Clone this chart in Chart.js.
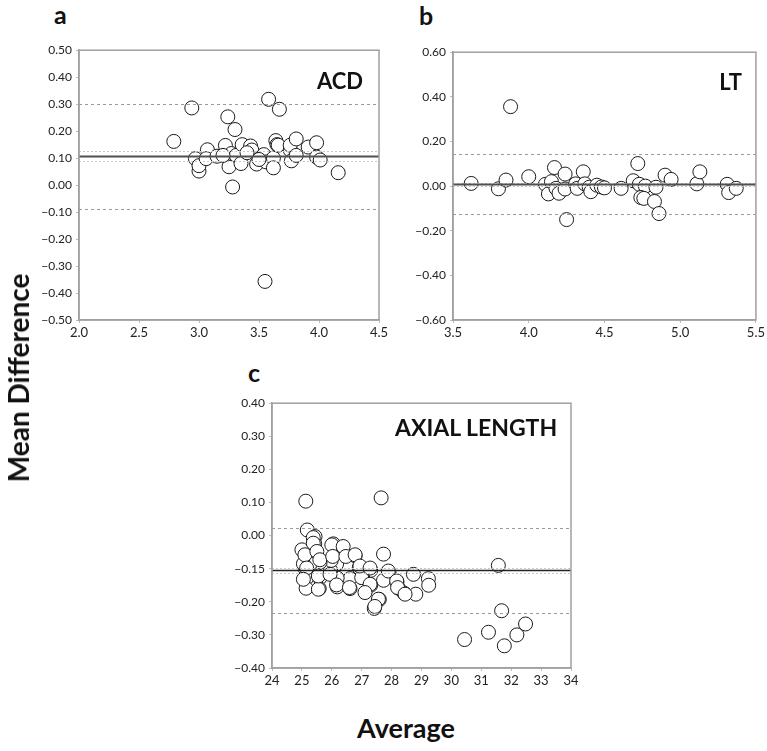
<!DOCTYPE html>
<html>
<head>
<meta charset="utf-8">
<script src="https://cdn.jsdelivr.net/npm/chart.js@4"></script>
<style>
  body { margin: 0; background: #fff; }
  #wrap { position: relative; width: 767px; height: 751px; overflow: hidden; font-family: Lato, "Open Sans", sans-serif; }
  canvas { position: absolute; }
  .lbl { position: absolute; font-weight: bold; color: #111; white-space: nowrap; line-height: 1; }
</style>
</head>
<body>
<div id="wrap">
  <canvas id="chartA" width="362" height="311" style="left:29px;top:39px"></canvas>
  <canvas id="chartB" width="364" height="309" style="left:403px;top:41px"></canvas>
  <canvas id="chartC" width="361" height="306" style="left:222px;top:392px"></canvas>

  <div class="lbl" style="left:54px;top:2px;font-size:25px">a</div>
  <div class="lbl" style="left:419px;top:3px;font-size:25px">b</div>
  <div class="lbl" style="left:248px;top:360px;font-size:25px">c</div>

  <div class="lbl" style="right:404px;top:70px;font-size:22px">ACD</div>
  <div class="lbl" style="right:25px;top:71px;font-size:22px">LT</div>
  <div class="lbl" style="left:395px;top:416px;font-size:23px">AXIAL LENGTH</div>

  <div class="lbl" style="left:18px;top:378px;font-size:28px;transform:translate(-50%,-50%) rotate(-90deg)">Mean Difference</div>
  <div class="lbl" style="left:406px;top:727px;font-size:27px;transform:translate(-50%,-50%)">Average</div>
</div>

<script>
// panel a - ACD
const acdAvg = [2.79, 2.94, 2.97, 3.00, 3.00, 3.07, 3.06, 3.15, 3.22, 3.24, 3.30, 3.25, 3.28, 3.27, 3.31,
  3.35, 3.36, 3.43, 3.44, 3.48, 3.51, 3.54, 3.56, 3.55, 3.58, 3.67, 3.62, 3.62, 3.64, 3.65,
  3.66, 3.76, 3.76, 3.77, 3.81, 3.81, 3.91, 3.98, 3.98, 4.01, 4.16, 3.20, 3.40, 3.50];
const acdDiff = [0.162, 0.286, 0.098, 0.052, 0.072, 0.131, 0.098, 0.107, 0.147, 0.253, 0.206, 0.068, -0.007, 0.117, 0.110,
  0.080, 0.150, 0.145, 0.130, 0.078, 0.100, 0.113, 0.086, -0.357, 0.318, 0.281, 0.100, 0.064, 0.165, 0.150,
  0.148, 0.130, 0.148, 0.090, 0.171, 0.110, 0.141, 0.157, 0.104, 0.093, 0.046, 0.110, 0.120, 0.095];
const acdXTicks = [2.0, 2.5, 3.0, 3.5, 4.0, 4.5];
const acdYTicks = [0.5, 0.4, 0.3, 0.2, 0.1, 0, -0.1, -0.2, -0.3, -0.4, -0.5];
const acdMean = 0.107, acdCI = [0.125, 0.089], acdLoA = [0.302, -0.089];

// panel b - LT
const ltAvg = [3.62, 3.80, 3.85, 3.88, 4.00, 4.11, 4.13, 4.15, 4.17, 4.18, 4.20, 4.24, 4.24, 4.25, 4.31,
  4.32, 4.36, 4.37, 4.40, 4.41, 4.45, 4.48, 4.50, 4.61, 4.69, 4.72, 4.73, 4.77, 4.74, 4.76,
  4.83, 4.84, 4.86, 4.90, 4.94, 5.11, 5.13, 5.31, 5.32, 5.37];
const ltDiff = [0.012, -0.012, 0.027, 0.356, 0.042, 0.008, -0.035, 0.020, 0.083, -0.010, -0.032, 0.054, -0.013, -0.150, 0.010,
  -0.010, 0.064, 0.010, -0.005, -0.025, 0.004, -0.004, -0.008, -0.010, 0.024, 0.101, 0.008, 0.000, -0.051, -0.055,
  -0.069, -0.005, -0.123, 0.049, 0.030, 0.010, 0.064, 0.008, -0.029, -0.010];
const ltXTicks = [3.5, 4.0, 4.5, 5.0, 5.5];
const ltYTicks = [0.6, 0.4, 0.2, 0, -0.2, -0.4, -0.6];
const ltMean = 0.008, ltCI = [0.015, 0.001], ltLoA = [0.145, -0.123];

// panel c - axial length
const alAvg = [25.13, 27.65, 25.18, 27.73, 31.57, 31.68, 30.44, 31.24, 31.77, 32.19, 32.48, 27.42, 27.59, 29.23, 29.24,
  28.73, 28.81, 28.42, 28.23, 28.18, 27.92, 27.73, 27.30, 27.30, 27.03, 26.92, 26.78, 26.61, 26.61, 26.42,
  26.16, 26.18, 26.18, 26.05, 25.96, 25.98, 25.61, 25.60, 25.58, 25.44, 25.43, 25.40, 25.18, 25.13, 25.11,
  25.16, 25.14, 25.28, 25.05, 25.38, 25.00, 25.10, 25.38, 25.50, 25.60, 25.16, 25.05, 25.55, 25.55, 26.00,
  26.03, 25.94, 26.16, 26.38, 26.47, 26.59, 26.78, 27.00, 26.94, 27.28, 27.28, 27.11, 27.89, 28.17, 28.20,
  28.45, 27.56, 27.44];
const alDiff = [0.104, 0.114, 0.017, -0.056, -0.090, -0.227, -0.314, -0.292, -0.333, -0.300, -0.267, -0.220, -0.193, -0.130, -0.150,
  -0.117, -0.177, -0.174, -0.159, -0.140, -0.115, -0.135, -0.105, -0.150, -0.127, -0.097, -0.061, -0.130, -0.160, -0.055,
  -0.086, -0.128, -0.155, -0.025, -0.105, -0.075, -0.080, -0.128, -0.160, -0.003, -0.025, -0.050, -0.050, -0.060, -0.100,
  -0.128, -0.159, -0.085, -0.085, -0.006, -0.043, -0.058, -0.023, -0.048, -0.073, -0.098, -0.132, -0.162, -0.122, -0.028,
  -0.063, -0.117, -0.149, -0.033, -0.063, -0.157, -0.058, -0.127, -0.092, -0.098, -0.147, -0.172, -0.107, -0.137, -0.157,
  -0.177, -0.192, -0.214];
const alXTicks = [24, 25, 26, 27, 28, 29, 30, 31, 32, 33, 34];
const alYTicks = [0.4, 0.3, 0.2, 0.1, 0, -0.1, -0.2, -0.3, -0.4];
const alYLabels = ["0.40", "0.30", "0.20", "0.10", "0.00", "\u22120.15", "\u22120.20", "\u22120.30", "\u22120.40"];
const alMean = -0.105, alCI = [-0.097, -0.113], alLoA = [0.024, -0.233];

function fmt(v, d) {
    let s = Math.abs(v).toFixed(d);
    return v < -1e-9 ? "\u2212" + s : s;
}

// box around plot area + mean / limit lines
const refLines = {
    id: "refLines",
    afterDatasetsDraw(chart, args, o) {
        const ctx = chart.ctx;
        const a = chart.chartArea;
        const y = chart.scales.y;
        ctx.save();
        function hline(v, color, width, dash) {
            const py = Math.round(y.getPixelForValue(v)) + 0.5;
            ctx.beginPath();
            ctx.setLineDash(dash);
            ctx.strokeStyle = color;
            ctx.lineWidth = width;
            ctx.moveTo(a.left, py);
            ctx.lineTo(a.right, py);
            ctx.stroke();
        }
        o.ci.forEach(v => hline(v, "#c8c8c8", 1, [2, 2]));
        o.loa.forEach(v => hline(v, "#9a9a9a", 1, [3, 3]));
        hline(o.mean, o.meanColor, o.meanWidth, []);
        ctx.setLineDash([]);
        ctx.strokeStyle = "#a0a0a0";
        ctx.lineWidth = 1.5;
        ctx.strokeRect(a.left, a.top, a.right - a.left, a.bottom - a.top);
        ctx.restore();
    }
};

function makeChart(id, avg, diff, xTicks, yTicks, xLabel, yLabel, lines, padRight) {
    const pts = avg.map((x, i) => ({ x: x, y: diff[i] }));
    return new Chart(document.getElementById(id), {
        type: "scatter",
        data: {
            datasets: [{
                data: pts,
                pointRadius: 7,
                pointHoverRadius: 7,
                pointBackgroundColor: "#ffffff",
                pointBorderColor: "#1a1a1a",
                pointBorderWidth: 1
            }]
        },
        options: {
            responsive: false,
            animation: false,
            layout: { padding: { top: 8, right: padRight, left: 0, bottom: 0 } },
            plugins: {
                legend: { display: false },
                tooltip: { enabled: false },
                refLines: lines
            },
            scales: {
                x: {
                    type: "linear",
                    min: xTicks[0],
                    max: xTicks[xTicks.length - 1],
                    afterBuildTicks: s => { s.ticks = xTicks.map(v => ({ value: v })); },
                    afterFit: s => { s.height = 30; },
                    ticks: {
                        callback: (v, i) => xLabel(v, i),
                        color: "#222",
                        font: { family: "Lato", size: 13 },
                        padding: 2,
                        maxRotation: 0,
                        autoSkip: false
                    },
                    grid: { drawOnChartArea: false, drawTicks: true, tickLength: 3, color: "#bbb" },
                    border: { display: true, color: "#a0a0a0", width: 1.5 }
                },
                y: {
                    type: "linear",
                    min: yTicks[yTicks.length - 1],
                    max: yTicks[0],
                    afterBuildTicks: s => { s.ticks = yTicks.slice().reverse().map(v => ({ value: v })); },
                    afterFit: s => { s.width = 50; },
                    ticks: {
                        callback: (v, i) => yLabel(v, i),
                        color: "#222",
                        font: { family: "Lato", size: 12 },
                        padding: 4,
                        autoSkip: false
                    },
                    grid: { drawOnChartArea: false, drawTicks: true, tickLength: 3, color: "#bbb" },
                    border: { display: true, color: "#a0a0a0", width: 1.5 }
                }
            }
        },
        plugins: [refLines]
    });
}

makeChart("chartA", acdAvg, acdDiff, acdXTicks, acdYTicks,
    v => v.toFixed(1), v => fmt(v, 2),
    { mean: acdMean, ci: acdCI, loa: acdLoA, meanColor: "#505050", meanWidth: 2 }, 12);

makeChart("chartB", ltAvg, ltDiff, ltXTicks, ltYTicks,
    v => v.toFixed(1), v => fmt(v, 2),
    { mean: ltMean, ci: ltCI, loa: ltLoA, meanColor: "#505050", meanWidth: 2 }, 9);

makeChart("chartC", alAvg, alDiff, alXTicks, alYTicks,
    v => String(v), v => alYLabels[alYTicks.indexOf(Math.round(v * 10) / 10)],
    { mean: alMean, ci: alCI, loa: alLoA, meanColor: "#222", meanWidth: 1.5 }, 12);
</script>
</body>
</html>
